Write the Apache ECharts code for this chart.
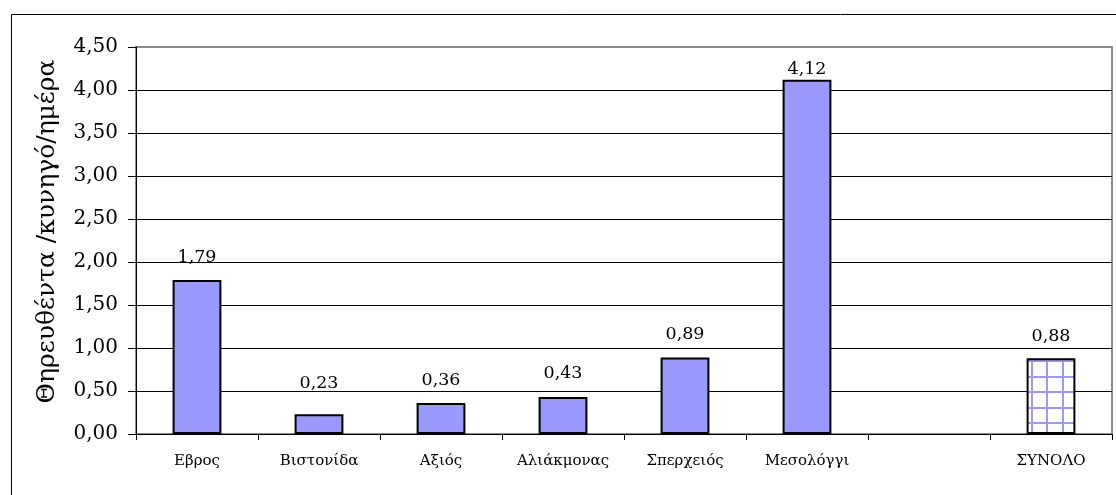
<!DOCTYPE html>
<html><head><meta charset="utf-8">
<script src="https://cdn.jsdelivr.net/npm/echarts@6/dist/echarts.min.js"></script>
<style>html,body{margin:0;padding:0;background:#fff}#c{width:1116px;height:495px}</style>
</head><body><div id="c"></div>
<script>
const categories = ['Εβρος','Βιστονίδα','Αξιός','Αλιάκμονας','Σπερχειός','Μεσολόγγι','','ΣΥΝΟΛΟ'];
const values = [1.79, 0.23, 0.36, 0.43, 0.89, 4.12, null, 0.88];
const labelGaps = [14, 22, 14, 15, 14, 1.5, 0, 13];
const totalIndex = 7;
const yAxisTitle = 'Θηρευθέντα /κυνηγό/ημέρα';

// grid pattern for the total bar
const pc = document.createElement('canvas');
(function(){
  pc.width = 31; pc.height = 31;
  const g = pc.getContext('2d');
  g.fillStyle = '#fff'; g.fillRect(0,0,31,31);
  g.fillStyle = '#9999FF';
  g.fillRect(8,0,2,31); g.fillRect(23,0,2,31);
  g.fillRect(0,4,31,2); g.fillRect(0,19,31,2);
})();

const fmt = v => v.toFixed(2).replace('.', ',');
const serif = '"DejaVu Serif", "Liberation Serif", serif';

const chart = echarts.init(document.getElementById('c'));
chart.setOption({
  animation: false,
  textStyle: { fontFamily: serif },
  graphic: [{ type: 'rect', shape: { x: 11.5, y: 14.5, width: 1300, height: 700 }, style: { fill: 'none', stroke: '#000', lineWidth: 1 }, z: 0 }],
  grid: { left: 136, top: 47, width: 976, height: 387, show: true, borderColor: '#8c8c8c', borderWidth: 2, backgroundColor: 'transparent' },
  xAxis: {
    type: 'category', data: categories,
    axisLine: { lineStyle: { color: '#000', width: 1 } },
    axisTick: { show: true, alignWithLabel: false, length: 6, lineStyle: { color: '#000' } },
    axisLabel: { color: '#000', fontSize: 15, margin: 20, interval: 0, fontFamily: serif }
  },
  yAxis: {
    type: 'value', min: 0, max: 4.5, interval: 0.5,
    name: yAxisTitle, nameLocation: 'middle', nameGap: 76, nameRotate: 90,
    nameTextStyle: { color: '#000', fontSize: 25, fontFamily: serif, padding: [0, 0, 0, 18] },
    axisLine: { show: true, lineStyle: { color: '#000', width: 1 } },
    axisTick: { show: true, length: 8, lineStyle: { color: '#000' } },
    axisLabel: { color: '#000', fontSize: 20, margin: 18, formatter: v => fmt(v), fontFamily: serif },
    splitLine: { show: true, showMaxLine: false, lineStyle: { color: '#000', width: 1 } }
  },
  series: [{
    type: 'bar', barCategoryGap: '60%',
    data: values.map((v, i) => {
      const d = { value: v, label: { distance: labelGaps[i] } };
      if (i === totalIndex) d.itemStyle = { color: { image: pc, repeat: 'repeat' } };
      return d;
    }),
    itemStyle: { color: '#9999FF', borderColor: '#000', borderWidth: 2 },
    label: { show: true, position: 'top', color: '#000', fontSize: 17.5, fontFamily: serif, formatter: p => p.value == null ? '' : fmt(p.value) }
  }]
});
</script></body></html>
